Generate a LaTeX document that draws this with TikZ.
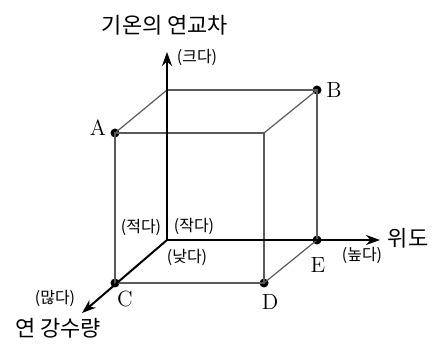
\documentclass[tikz,border=0pt]{standalone}
\usepackage{fontspec}
\newfontfamily\krfont{Noto Sans CJK KR}
\usetikzlibrary{arrows.meta}
\definecolor{edgegray}{HTML}{5A5A5A}

\begin{document}
\begin{tikzpicture}[x=0.5pt, y=-0.5pt, line width=0.6pt,
    axis/.style={line width=1pt, -{Stealth[length=7pt, width=5pt]}},
    edge/.style={edgegray},
    pt/.style={circle, fill, inner sep=0pt, minimum size=4.5pt},
    ax/.style={font=\krfont\fontsize{11}{13}\selectfont, inner sep=0pt},
    sm/.style={font=\krfont\fontsize{8}{9}\selectfont, inner sep=0pt},
    lt/.style={font=\fontsize{11}{13}\selectfont, inner sep=0pt}]
    \useasboundingbox (0,0) rectangle (434,347);
    % cube corners
    \coordinate (O) at (167,240);
    \coordinate (tf) at (264,133);
    \coordinate (tb) at (167,90);
    \node[pt] (A) at (115,133) {};
    \node[pt] (B) at (317,90) {};
    \node[pt] (C) at (115,283) {};
    \node[pt] (D) at (264,283) {};
    \node[pt] (E) at (317,240) {};
    \draw[edge] (A.center) -- (tf) -- (D.center) -- (C.center) -- cycle;
    \draw[edge] (tb) -- (B.center) -- (E.center);
    \draw[edge] (A.center) -- (tb);
    \draw[edge] (tf) -- (B.center);
    \draw[edge] (D.center) -- (E.center);
    % axes
    \coordinate (ytip) at (167,52);
    \coordinate (xtip) at (380,240);
    \coordinate (ztip) at (82,313);
    \draw[axis] (O) -- (ytip);
    \draw[axis] (O) -- (xtip);
    \draw[axis] (O) -- (ztip);
    % labels
    \node[ax] (ty) at (165,25) {기온의 연교차};
    \node[ax] (tx) at (408,238) {위도};
    \node[ax] (tz) at (58,328) {연 강수량};
    \node[sm] (big) at (197,57) {(크다)};
    \node[sm] (high) at (362,255) {(높다)};
    \node[sm] (many) at (55,298) {(많다)};
    \node[sm] (few) at (141,227) {(적다)};
    \node[sm] (small) at (194,226) {(작다)};
    \node[sm] (low) at (187,257) {(낮다)};
    \node[lt] at (98,128) {A};
    \node[lt] at (334,90) {B};
    \node[lt] at (125,299) {C};
    \node[lt] at (270,302) {D};
    \node[lt] at (318,265) {E};
\end{tikzpicture}
\end{document}
